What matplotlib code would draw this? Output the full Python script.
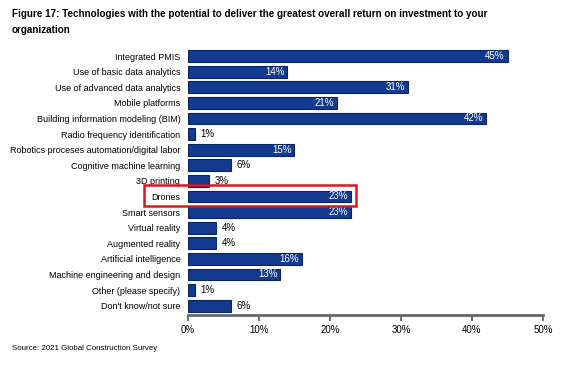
import matplotlib.pyplot as plt
from matplotlib.patches import Rectangle

plt.rcParams['font.family'] = ['Liberation Sans', 'DejaVu Sans']

categorias = ['Integrated PMIS', 'Use of basic data analytics', 'Use of advanced data analytics',
              'Mobile platforms', 'Building information modeling (BIM)', 'Radio frequency identification',
              'Robotics proceses automation/digital labor', 'Cognitive machine learning', '3D printing',
              'Drones', 'Smart sensors', 'Virtual reality', 'Augmented reality',
              'Artificial intelligence', 'Machine engineering and design', 'Other (please specify)',
              "Don't know/not sure"]
valores = [45, 14, 31, 21, 42, 1, 15, 6, 3, 23, 23, 4, 4, 16, 13, 1, 6]
ticks = [0, 10, 20, 30, 40, 50]
destaque = 'Drones'

fig = plt.figure(figsize=(5.64, 3.71), dpi=100)
ax = fig.add_axes([0.3333, 0.151, 0.6295, 0.723])

y = list(range(len(categorias)))
ax.barh(y, valores, height=0.76, color='#123a8e', edgecolor='#0a2566', linewidth=0.8)

for i, v in zip(y, valores):
    if v >= 10:
        ax.text(v - 0.4, i, f'{v}%', va='center', ha='right', color='white', fontsize=7)
    else:
        ax.text(v + 0.8, i, f'{v}%', va='center', ha='left', color='black', fontsize=7)

ax.set_ylim(16.6, -0.6)
ax.set_xlim(0, 50)
ax.set_yticks(y)
ax.set_yticklabels(categorias, fontsize=6.45)
ax.tick_params(axis='y', length=0, pad=5.5)
ax.set_xticks(ticks)
ax.set_xticklabels([f'{t}%' for t in ticks], fontsize=7)
ax.tick_params(axis='x', length=4, width=1.2, color='#555555', pad=3)
for s in ['top', 'right', 'left']:
    ax.spines[s].set_visible(False)
ax.spines['bottom'].set_color('#666666')
ax.spines['bottom'].set_linewidth(2)

# caixa vermelha em volta de Drones
idx = categorias.index(destaque)
fig.add_artist(Rectangle((144 / 564, 1 - 206 / 371), (356 - 144) / 564, 21 / 371,
                         transform=fig.transFigure, fill=False, edgecolor='#e0141e', linewidth=1.8))

fig.text(12 / 564, 1 - 14 / 371, 'Figure 17: Technologies with the potential to deliver the greatest overall return on investment to your',
         fontsize=7.1, fontweight='bold', va='center', ha='left')
fig.text(12 / 564, 1 - 30 / 371, 'organization', fontsize=7.1, fontweight='bold', va='center', ha='left')
fig.text(12 / 564, 1 - 348 / 371, 'Source: 2021 Global Construction Survey', fontsize=5.7, va='center', ha='left')

plt.savefig('out.png', dpi=100)
